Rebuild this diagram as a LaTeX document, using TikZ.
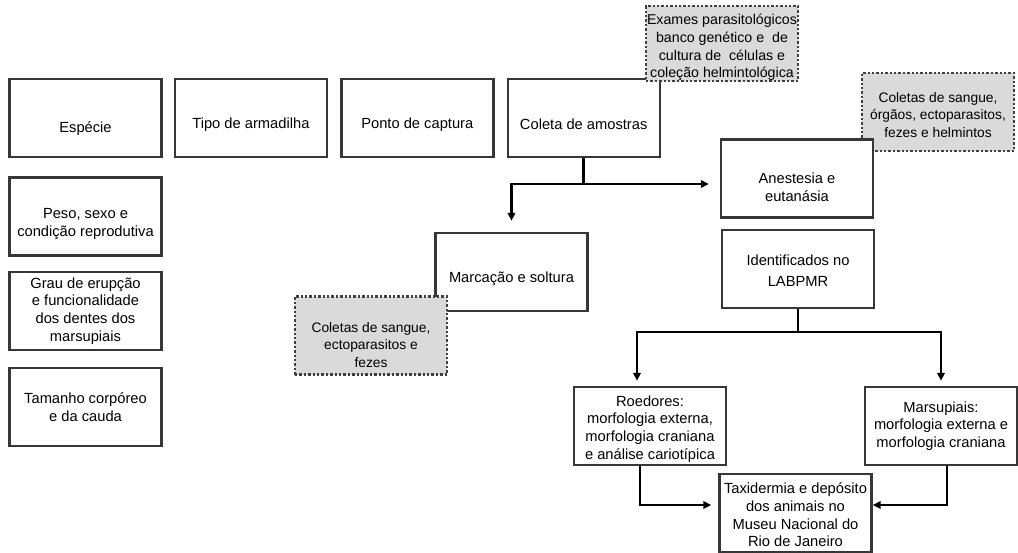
\documentclass[tikz,border=0pt]{standalone}
\usepackage{fontspec}
\setmainfont{Liberation Sans}
\usepackage{tikz}
\usetikzlibrary{arrows.meta,positioning,calc}
\usepackage{xcolor}
\definecolor{boxline}{RGB}{55,55,55}
\definecolor{notefill}{RGB}{218,218,218}
\newcommand{\dropby}[1]{\rule{0pt}{#1}}

\begin{document}
\begin{tikzpicture}[
      x=1pt, y=-1pt,
      box/.style={draw=boxline, line width=2.4pt, fill=white,
                  minimum width=152pt, minimum height=78pt,
                  align=center, inner sep=0pt,
                  font=\fontsize{14.7}{17.7}\selectfont},
      notebox/.style={box, draw=black!75, fill=notefill, dotted,
                  line width=2.2pt, font=\fontsize{13.8}{17.4}\selectfont},
      arr/.style={line width=2.7pt, black,
                  -{Triangle[length=8pt,width=7.5pt]}},
      link/.style={line width=2.7pt, black}
    ]
    \useasboundingbox (0,0) rectangle (1018,552);
    \node[box] (especie) at (85.5,118) {\dropby{32pt}Espécie};
    \node[box, right=11pt of especie] (tipo) {\dropby{24pt}Tipo de armadilha};
    \node[box, right=12pt of tipo] (ponto) {\dropby{24pt}Ponto de captura};
    \node[box, right=12pt of ponto] (coleta) {\dropby{24pt}Coleta de amostras};
    \node[box, below=18pt of especie] (peso)
      {\dropby{25.6pt}Peso, sexo e\\ condição reprodutiva};
    \node[box, below=14pt of peso] (grau)
      {Grau de erupção\\ e funcionalidade\\ dos dentes dos\\ marsupiais};
    \node[box, below=16pt of grau] (tamanho)
      {Tamanho corpóreo\\ e da cauda};
    \node[notebox, minimum height=73pt, font=\fontsize{14.2}{17.7}\selectfont] (exames) at (722,43.5)
      {\dropby{18.4pt}Exames parasitológicos\\ banco genético e \ de\\ cultura de \ células e\\ coleção helmintológica};
    \node[notebox] (coletasR) at (938,112)
      {\dropby{16pt}Coletas de sangue,\\ órgãos, ectoparasitos,\\ fezes e helmintos};
    \node[box] (anestesia) at (797,178.5) {\dropby{27.6pt}Anestesia e\\ eutanásia};
    \node[box] (ident) at (798,269) {\dropby{14pt}Identificados no\\[3pt] LABPMR};
    \node[box] (marcacao) at (511.5,272) {\dropby{24pt}Marcação e soltura};
    \node[notebox] (coletasL) at (371,335.5)
      {\dropby{28.4pt}Coletas de sangue,\\ ectoparasitos e\\ fezes};
    \node[box] (roed) at (650,426)
      {\dropby{16.6pt}Roedores:\\ morfologia externa,\\ morfologia craniana\\ e análise cariotípica};
    \node[box] (mars) at (941,426)
      {Marsupiais:\\ morfologia externa e\\ morfologia craniana};
    \node[box] (taxi) at (795.5,513)
      {\dropby{14.6pt}Taxidermia e depósito\\ dos animais no\\ Museu Nacional do\\ Rio de Janeiro};
    \coordinate (split1) at (coleta.south |- 0,184);
    \coordinate (split2) at (ident.south |- 0,332);
    \draw[link] (coleta.south) -- (split1);
    \draw[arr, shorten >=11pt] (split1) -| (marcacao.north);
    \draw[arr, shorten >=11pt] (split1) -- (anestesia.west |- split1);
    \draw[link] (ident.south) -- (split2);
    \draw[arr, shorten >=5pt] (split2) -| ([xshift=-13pt]roed.north);
    \draw[arr, shorten >=5pt] (split2) -| (mars.north);
    \draw[arr, shorten >=7pt] ([xshift=-10pt]roed.south) |- ([yshift=8pt]taxi.west);
    \draw[arr] ([xshift=6pt]mars.south) |- ([yshift=8pt]taxi.east);
  \end{tikzpicture}
\end{document}
